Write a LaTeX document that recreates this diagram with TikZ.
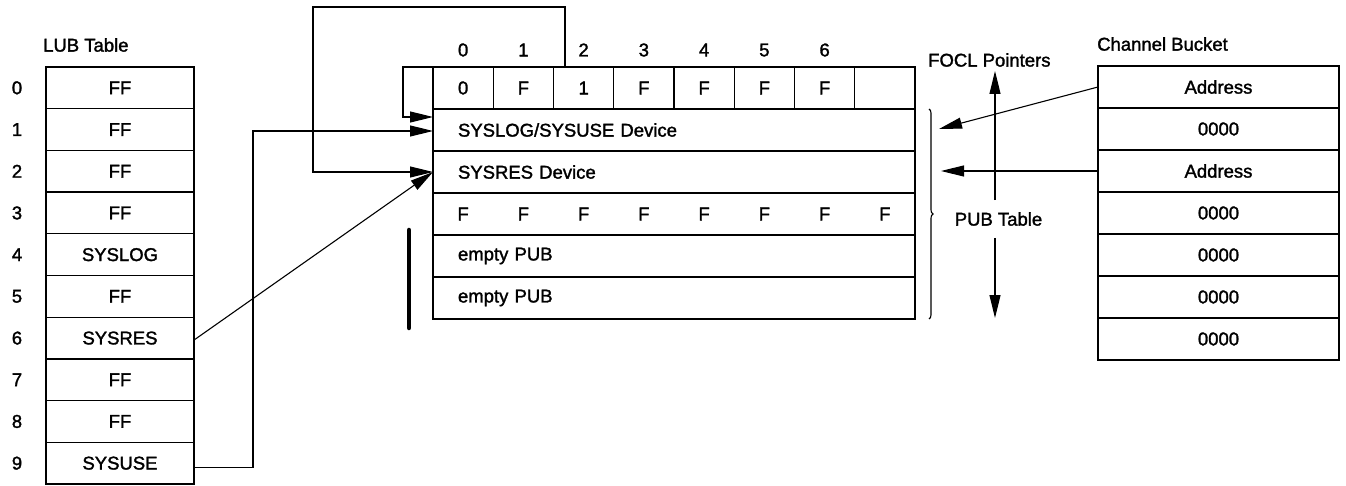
\documentclass[tikz,border=0pt]{standalone}
\usepackage{fontspec}
\setmainfont{Liberation Sans}
\newfontfamily\medfont{Liberation Sans}[FakeBold=1.6]
\usetikzlibrary{arrows.meta,decorations.pathreplacing,calc}
\begin{document}
\begin{tikzpicture}[x=1pt,y=-1pt,
  every node/.style={font=\medfont\fontsize{18.5}{21}\selectfont},
  cell/.style={draw, line width=1.2pt, inner sep=0pt, outer sep=0pt},
  lubcell/.style={cell, minimum width=148pt, minimum height=41.7pt},
  hdrcell/.style={cell, minimum width=60.25pt, minimum height=42pt},
  pubrow/.style={cell, minimum height=42pt, text width=432pt, inner xsep=25pt, align=left},
  cbcell/.style={cell, minimum width=241pt, minimum height=42pt},
  lbl/.style={inner sep=0pt},
  frame/.style={line width=2pt},
  conn/.style={line width=1.1pt},
  tip/.style={conn, -{Triangle[length=23pt,width=11pt]}},
]
\useasboundingbox (0,0) rectangle (1346,486);

% ---------------- LUB table ----------------
\node[lbl, anchor=west] (lubt) at (43,45) {LUB Table};
\foreach \i/\t in {0/FF,1/FF,2/FF,3/FF,4/SYSLOG,5/FF,6/SYSRES,7/FF,8/FF,9/SYSUSE}{
  \node[lubcell] (lub\i) at (120,{67+41.7*(\i+0.5)}) {\t};
  \node[lbl] (ln\i) at (17,{67+41.7*(\i+0.5)}) {\i};
}
\draw[frame] (lub0.north west) rectangle (lub9.south east);

% ---------------- PUB table ----------------
\foreach \j/\t in {0/0,1/F,2/1,3/F,4/F,5/F,6/F,7/{}}{
  \node[hdrcell] (hdr\j) at ({433+60.25*(\j+0.5)},88) {\t};
}
\foreach \j in {0,...,6}{
  \node[lbl] (col\j) at ({433+60.25*(\j+0.5)},50) {\j};
}
\node[pubrow] (row1) at (674,130) {SYSLOG/SYSUSE Device};
\node[pubrow] (row2) at (674,172) {SYSRES Device};
\node[pubrow] (row3) at (674,214) {};
\node[pubrow] (row4) at (674,256) {empty PUB};
\node[pubrow] (row5) at (674,298) {empty PUB};
\foreach \j in {0,...,7}{
  \node[lbl] (f\j) at ({433+60.25*(\j+0.5)},214) {F};
}
\draw[frame] (hdr0.north west) rectangle (row5.south east);

% thick bar
\draw[line width=4.5pt, line cap=round] (409,230) -- (409,328);

% brace
\draw[conn, decorate, decoration={brace,amplitude=4pt}]
  ($(row1.north east)+(14,0)$) -- ($(row5.south east)+(14,0)$);

% ---------------- Channel bucket ----------------
\node[lbl, anchor=west] (cbt) at (1097,44) {Channel Bucket};
\foreach \i/\t in {0/Address,1/0000,2/Address,3/0000,4/0000,5/0000,6/0000}{
  \node[cbcell] (cb\i) at (1218.5,{66+42*(\i+0.5)}) {\t};
}
\draw[frame] (cb0.north west) rectangle (cb6.south east);

% ---------------- FOCL pointers ----------------
\node[lbl, anchor=west] (focl) at (928,60) {FOCL Pointers};
\node[lbl, inner ysep=12pt] (pubt) at (998.5,219) {PUB Table};
\coordinate (ftop) at (995,71);
\coordinate (fbot) at (995,318);
\draw[tip] (pubt.north -| ftop) -- (ftop);
\draw[tip] (pubt.south -| fbot) -- (fbot);

% ---------------- connectors ----------------
\coordinate (loopTL) at (313,7);
\draw[tip] ($(hdr2.north west)+(11.5,0)$) |- (loopTL) |- (row2.west);
\coordinate (sl) at (403,117);
\draw[tip] (hdr0.north west) -| (sl) -- (sl -| row1.west);
\coordinate (su) at (253,131);
\draw[tip] ($(lub9.east)+(0,4)$) -| (su) -- (su -| row1.west);
\draw[tip] ($(lub6.east)+(0,2)$) -- (row2.west);
\coordinate (cbt1) at (939,129);
\draw[tip] (cb0.west) -- (cbt1);
\coordinate (cbt2) at (941,171);
\draw[tip] (cb2.west) -- (cbt2);
\end{tikzpicture}
\end{document}
